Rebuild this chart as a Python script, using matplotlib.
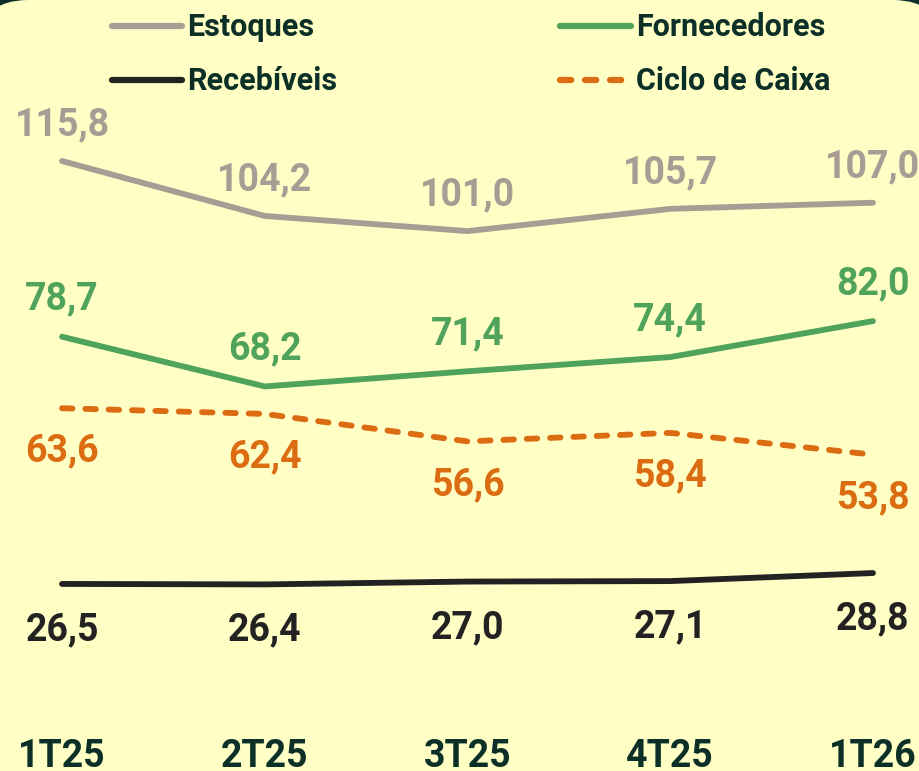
import matplotlib
matplotlib.use("Agg")
import matplotlib.pyplot as plt
from matplotlib.patches import FancyBboxPatch

plt.rcParams['font.family'] = ['Roboto', 'DejaVu Sans']

quarters = ["1T25", "2T25", "3T25", "4T25", "1T26"]
estoques = [115.8, 104.2, 101.0, 105.7, 107.0]
fornecedores = [78.7, 68.2, 71.4, 74.4, 82.0]
recebiveis = [26.5, 26.4, 27.0, 27.1, 28.8]
ciclo = [63.6, 62.4, 56.6, 58.4, 53.8]

BG = "#FFFEC5"
DARK = "#0C3027"
C_EST = "#A89C94"
C_FOR = "#4FA35B"
C_REC = "#222222"
C_CIC = "#DB6C12"

W, H = 920, 771
fig = plt.figure(figsize=(W / 100, H / 100), dpi=100)
fig.patch.set_facecolor(DARK)
bg = FancyBboxPatch((-0.22, -1.0), (W / 100) + 0.45, (H / 100) + 1.0,
                    boxstyle="round,pad=0,rounding_size=0.5",
                    transform=fig.dpi_scale_trans, facecolor=BG, edgecolor="none", zorder=-10)
fig.patches.append(bg)

ax = fig.add_axes([0, 0, 1, 1])
ax.set_zorder(5)
ax.set_facecolor("none")
x = list(range(len(quarters)))
ax.set_xlim(-0.306, 4.232)
ax.set_ylim(-13.0, 149.8)
for s in ax.spines.values():
    s.set_visible(False)
ax.set_yticks([])
ax.set_xticks(x)
ax.set_xticklabels(quarters)
ax.tick_params(axis='x', length=0, pad=-24, labelsize=27, labelcolor=DARK)
for t in ax.get_xticklabels():
    t.set_fontweight('bold')
    t.set_verticalalignment('top')

lw = 4.2
l_est, = ax.plot(x, estoques, color=C_EST, lw=lw, solid_capstyle='round', label="Estoques")
l_for, = ax.plot(x, fornecedores, color=C_FOR, lw=lw, solid_capstyle='round', label="Fornecedores")
l_rec, = ax.plot(x, recebiveis, color=C_REC, lw=lw, solid_capstyle='round', label="Recebíveis")
l_cic, = ax.plot(x, ciclo, color=C_CIC, lw=lw, ls=(0, (1.8, 2.2)), dash_capstyle='round', label="Ciclo de Caixa")

def fmt(v):
    return f"{v:.1f}".replace(".", ",")

fs = 27
for xi, v in zip(x, estoques):
    ax.annotate(fmt(v), (xi, v), xytext=(0, 26), textcoords='offset points',
                ha='center', va='center', fontsize=fs, fontweight='bold', color=C_EST)
for xi, v in zip(x, fornecedores):
    ax.annotate(fmt(v), (xi, v), xytext=(0, 27), textcoords='offset points',
                ha='center', va='center', fontsize=fs, fontweight='bold', color=C_FOR)
for xi, v in zip(x, ciclo):
    ax.annotate(fmt(v), (xi, v), xytext=(0, -31), textcoords='offset points',
                ha='center', va='center', fontsize=fs, fontweight='bold', color=C_CIC)
for xi, v in zip(x, recebiveis):
    ax.annotate(fmt(v), (xi, v), xytext=(0, -33), textcoords='offset points',
                ha='center', va='center', fontsize=fs, fontweight='bold', color=C_REC)

leg = ax.legend(handles=[l_est, l_rec, l_for, l_cic], ncol=2, loc='upper left',
                bbox_to_anchor=(0.108, 1.0), frameon=False,
                prop={'size': 22, 'weight': 'bold'}, handlelength=2.3,
                handletextpad=0.17, columnspacing=7.3, labelspacing=0.79,
                borderaxespad=0)
for t in leg.get_texts():
    t.set_color(DARK)
for h in leg.legend_handles:
    h.set_linewidth(4.5)

fig.savefig("out.png", dpi=100, facecolor=fig.get_facecolor())
